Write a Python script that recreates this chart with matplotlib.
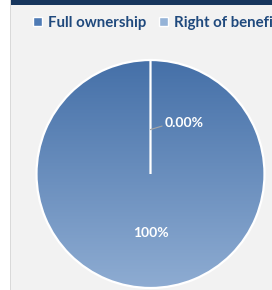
import numpy as np
import matplotlib.pyplot as plt
from matplotlib.patches import Patch, Rectangle
from matplotlib.colors import LinearSegmentedColormap

# data
labels = ["Full ownership", "Right of benefit"]
values = [100.0, 0.0]
label_texts = ["100%", "0.00%"]
legend_colors = ["#4f7bb5", "#95b3d7"]

W, H = 272, 290
fig = plt.figure(figsize=(W / 100, H / 100), dpi=100)
fig.patch.set_facecolor("white")

# panel background, left border and navy band on top
fig.patches.append(Rectangle((11 / W, 0), 1, 1, transform=fig.transFigure,
                             facecolor="#f2f2f2", edgecolor="none", zorder=-3))
fig.patches.append(Rectangle((10 / W, 0), 1.3 / W, 1, transform=fig.transFigure,
                             facecolor="#d9d9d9", edgecolor="none", zorder=-3))
fig.patches.append(Rectangle((11 / W, 1 - 4.5 / H), 1, 4.5 / H, transform=fig.transFigure,
                             facecolor="#17365d", edgecolor="none", zorder=-2))

# pie geometry in pixels (centre and radius)
cx, cy, r = 150.5, 174, 114 * 1.02
ax = fig.add_axes([(cx - r) / W, (H - cy - r) / H, 2 * r / W, 2 * r / H])
ax.set_zorder(5)
ax.set_facecolor("none")

wedges, _ = ax.pie(values, startangle=90, counterclock=False, radius=1,
                   colors=legend_colors,
                   wedgeprops=dict(edgecolor="white", linewidth=1.6))

# gradient fill, dark at the top, light at the bottom
cmap = LinearSegmentedColormap.from_list("grad", ["#4570a8", "#8eacd2"])
grad = np.linspace(0, 1, 256).reshape(-1, 1)
img = ax.imshow(grad, cmap=cmap, extent=[-1, 1, -1, 1], origin="upper",
                aspect="auto", zorder=1)
img.set_clip_path(wedges[0])
for w in wedges:
    w.set_facecolor("none")
    w.set_zorder(2)

ax.set_xlim(-1.02, 1.02)
ax.set_ylim(-1.02, 1.02)
ax.set_aspect("equal")
ax.axis("off")

font = "Lato"
# 100% label
ax.text(0, -0.52, label_texts[0], ha="center", va="center", color="white",
        fontsize=10, fontweight="bold", family=font, zorder=4)
# 0.00% label with leader line
ax.plot([0.0, 0.1], [0.39, 0.42], color="#a6a6a6", lw=0.8, zorder=3)
ax.text(0.12, 0.445, label_texts[1], ha="left", va="center", color="white",
        fontsize=10, fontweight="bold", family=font, zorder=4)

handles = [Patch(facecolor=c, edgecolor="white", linewidth=1.0) for c in legend_colors]
fig.legend(handles, labels, loc="center left", bbox_to_anchor=(25 / W, 1 - 23 / H),
           ncol=2, frameon=False, borderpad=0, handlelength=0.6, handleheight=0.6,
           handletextpad=0.4, columnspacing=0.9,
           prop=dict(family=font, weight="bold", size=10.8), labelcolor="#1f497d")

fig.savefig("out.png", dpi=100)
